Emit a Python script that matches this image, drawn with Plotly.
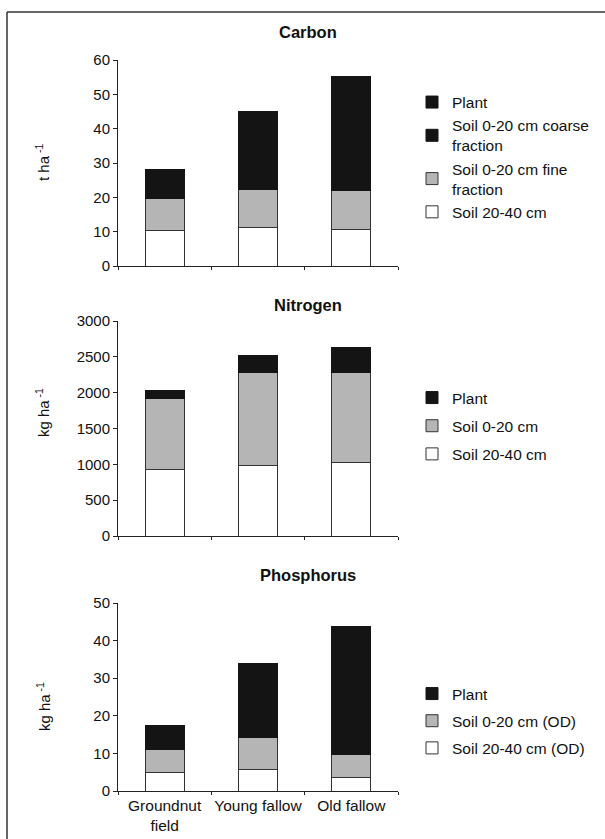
import plotly.graph_objects as go

categories = ["Groundnut<br>field", "Young fallow", "Old fallow"]

# Carbon (t ha-1)
c_soil_20_40 = [10.3, 11.3, 10.7]
c_soil_fine = [9.4, 11.1, 11.2]
c_soil_coarse = [6.3, 14.5, 19.2]
c_plant = [2.0, 8.0, 14.0]

# Nitrogen (kg ha-1)
n_soil_20_40 = [921, 981, 1023]
n_soil_0_20 = [1000, 1303, 1261]
n_plant = [116, 232, 349]

# Phosphorus (kg ha-1)
p_soil_20_40 = [5.0, 5.6, 3.6]
p_soil_0_20 = [6.1, 8.6, 6.0]
p_plant = [6.3, 19.6, 34.1]

WHITE = "#ffffff"
GREY = "#b5b5b5"
BLACK = "#141414"
LINE = "#333333"
FONT = "Liberation Sans, Arial, sans-serif"

fig = go.Figure()

def add_bar(y, name, color, xa, ya, legend, rank):
    edge = BLACK if color == BLACK else LINE
    fig.add_trace(go.Bar(
        x=categories, y=y, name=name, xaxis=xa, yaxis=ya,
        marker=dict(color=color, line=dict(color=edge, width=1)),
        legend=legend, legendrank=rank, legendgroup=legend + name,
        hoverinfo="skip",
    ))

add_bar(c_soil_20_40, "Soil 20-40 cm", WHITE, "x", "y", "legend", 4)
add_bar(c_soil_fine, "Soil 0-20 cm fine<br>fraction", GREY, "x", "y", "legend", 3)
add_bar(c_soil_coarse, "Soil 0-20 cm coarse<br>fraction", BLACK, "x", "y", "legend", 2)
add_bar(c_plant, "Plant", BLACK, "x", "y", "legend", 1)

add_bar(n_soil_20_40, "Soil 20-40 cm", WHITE, "x2", "y2", "legend2", 3)
add_bar(n_soil_0_20, "Soil 0-20 cm", GREY, "x2", "y2", "legend2", 2)
add_bar(n_plant, "Plant", BLACK, "x2", "y2", "legend2", 1)

add_bar(p_soil_20_40, "Soil 20-40 cm (OD)", WHITE, "x3", "y3", "legend3", 3)
add_bar(p_soil_0_20, "Soil 0-20 cm (OD)", GREY, "x3", "y3", "legend3", 2)
add_bar(p_plant, "Plant", BLACK, "x3", "y3", "legend3", 1)

H = 839.0
W = 605.0
def py(px):
    return 1 - px / H

xdom = [118 / W, 398 / W]
xaxis_common = dict(
    domain=xdom, showline=True, linecolor="#222", linewidth=1,
    ticks="outside", tickson="boundaries", ticklen=3, tickcolor="#222",
    showgrid=False, zeroline=False, automargin=False, tickangle=0,
    tickfont=dict(family=FONT, size=15.5, color="#111"),
)
yaxis_common = dict(
    showline=True, linecolor="#222", linewidth=1, ticks="outside", ticklen=4,
    tickcolor="#222", showgrid=False, zeroline=False, automargin=False,
    tickfont=dict(family=FONT, size=15, color="#111"),
)

leg_common = dict(
    x=412 / W, xanchor="left", yanchor="middle", orientation="v",
    font=dict(family=FONT, size=15.5, color="#111"),
    bgcolor="rgba(0,0,0,0)", itemwidth=30,
)

fig.update_layout(
    template="none",
    width=605, height=839, autosize=False,
    margin=dict(l=0, r=0, t=0, b=0, pad=0),
    paper_bgcolor="white", plot_bgcolor="white",
    barmode="stack", bargap=0.58,
    font=dict(family=FONT, size=15, color="#111"),
    xaxis=dict(xaxis_common, anchor="y", showticklabels=False),
    yaxis=dict(yaxis_common, domain=[py(266), py(60)], range=[0, 60], dtick=10, anchor="x"),
    xaxis2=dict(xaxis_common, anchor="y2", showticklabels=False),
    yaxis2=dict(yaxis_common, domain=[py(536), py(321)], range=[0, 3000], dtick=500, anchor="x2"),
    xaxis3=dict(xaxis_common, anchor="y3"),
    yaxis3=dict(yaxis_common, domain=[py(791), py(603)], range=[0, 50], dtick=10, anchor="x3"),
    legend=dict(leg_common, y=py(157), traceorder="normal"),
    legend2=dict(leg_common, y=py(426), traceorder="grouped", tracegroupgap=5),
    legend3=dict(leg_common, y=py(721), traceorder="grouped", tracegroupgap=4),
    showlegend=True,
    hovermode=False,
)

titles = [("Carbon", 32), ("Nitrogen", 305), ("Phosphorus", 575)]
for t, ypx in titles:
    fig.add_annotation(text="<b>%s</b>" % t, x=308 / W, y=py(ypx), xref="paper", yref="paper",
                       xanchor="center", yanchor="middle",
                       showarrow=False, font=dict(family=FONT, size=16.5, color="#111"))

ytitles = [("t ha<sup> -1</sup>", 163), ("kg ha<sup> -1</sup>", 413), ("kg ha<sup> -1</sup>", 707)]
for t, ypx in ytitles:
    fig.add_annotation(text=t, x=43 / W, y=py(ypx), xref="paper", yref="paper", textangle=-90,
                       xanchor="center", yanchor="middle",
                       showarrow=False, font=dict(family=FONT, size=15, color="#111"))

# page frame
fig.add_shape(type="line", xref="paper", yref="paper", x0=7 / W, x1=1, y0=py(12), y1=py(12),
              line=dict(color="#333", width=1.5))
fig.add_shape(type="line", xref="paper", yref="paper", x0=7 / W, x1=7 / W, y0=0, y1=py(12),
              line=dict(color="#333", width=1.5))

fig.write_html(
    "out.html",
    config={"displayModeBar": False, "staticPlot": True},
    post_script="document.body.style.margin='0';document.body.style.overflow='hidden';",
)
